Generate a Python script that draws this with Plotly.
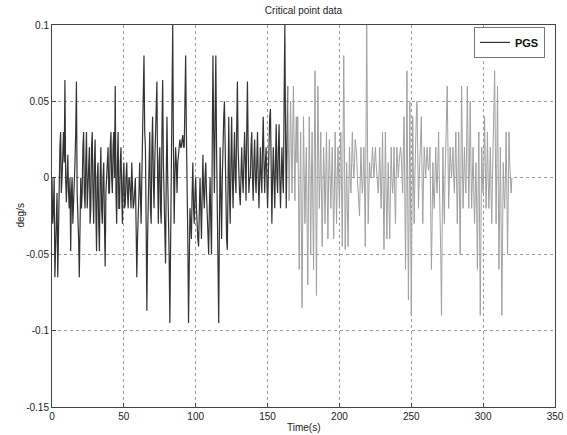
import plotly.graph_objects as go

# ---- data ----
# values at whole seconds 0..320
rate_deg_s = [
    # 0-9
    0.0, -0.02, -0.065, -0.03, -0.065, -0.02, 0.03, 0.0, 0.03, 0.064,
    # 10-19
    -0.016, 0.015, -0.02, -0.048, 0.0, -0.02, 0.01, 0.063, -0.02, -0.065,
    # 20-29
    0.0, -0.01, 0.03, -0.02, 0.03, -0.01, 0.02, -0.02, 0.03, -0.03,
    # 30-39
    0.025, -0.048, 0.01, -0.048, 0.02, -0.03, 0.01, -0.058, 0.0, 0.02,
    # 40-49
    -0.01, 0.03, -0.01, 0.03, 0.06, -0.03, 0.03, -0.02, 0.02, -0.03,
    # 50-59
    0.01, -0.017, 0.01, -0.02, 0.0, -0.02, 0.0, -0.017, 0.0, -0.065,
    # 60-69
    -0.03, 0.01, -0.03, 0.03, 0.08, 0.02, -0.087, -0.02, 0.03, -0.03,
    # 70-79
    0.04, -0.02, 0.03, 0.063, -0.03, 0.02, -0.03, 0.064, -0.02, -0.056,
    # 80-89
    0.04, -0.02, -0.095, 0.0, 0.1, -0.03, 0.02, -0.01, 0.015, 0.025,
    # 90-99
    0.02, 0.028, 0.02, 0.08, 0.0, -0.095, -0.02, -0.04, 0.01, -0.03,
    # 100-109
    0.0, -0.035, -0.045, 0.0, -0.04, 0.015, -0.02, 0.01, -0.03, -0.05,
    # 110-119
    0.0, -0.05, 0.08, -0.01, 0.08, -0.03, -0.095, 0.02, -0.04, 0.03,
    # 120-129
    0.05, -0.02, -0.047, 0.04, -0.03, 0.04, -0.02, 0.03, -0.01, 0.063,
    # 130-139
    0.0, -0.018, 0.02, -0.01, 0.03, -0.015, 0.063, -0.01, 0.0, 0.03,
    # 140-149
    -0.015, 0.025, -0.01, 0.03, -0.02, 0.02, -0.01, 0.04, -0.01, 0.02,
    # 150-159
    -0.02, 0.03, 0.045, -0.03, 0.02, -0.02, 0.035, -0.01, 0.035, -0.02,
    # 160-169
    0.02, -0.01, 0.1, -0.02, 0.06, -0.015, 0.05, -0.01, 0.06, -0.015,
    # 170-179
    0.04, 0.04, -0.06, 0.03, -0.085, 0.04, -0.03, 0.02, -0.07, 0.04,
    # 180-189
    -0.05, 0.03, -0.06, 0.07, -0.077, 0.06, -0.02, 0.03, -0.045, 0.02,
    # 190-199
    -0.03, 0.03, -0.04, 0.025, -0.02, 0.02, -0.04, 0.03, -0.03, 0.02,
    # 200-209
    -0.02, 0.03, -0.045, 0.08, -0.047, 0.01, -0.045, 0.02, -0.01, 0.03,
    # 210-219
    0.0, 0.025, 0.015, -0.01, -0.025, 0.02, -0.01, 0.02, -0.045, 0.1,
    # 220-229
    -0.03, 0.01, 0.0, 0.02, 0.0, 0.02, 0.005, -0.01, 0.02, -0.02,
    # 230-239
    0.03, -0.047, 0.03, -0.04, 0.01, -0.04, 0.02, -0.01, 0.02, -0.03,
    # 240-249
    0.02, 0.0, 0.02, 0.015, -0.01, 0.04, -0.06, 0.07, -0.08, 0.05,
    # 250-259
    -0.09, 0.04, -0.03, 0.03, 0.05, -0.02, 0.01, 0.04, -0.03, 0.02,
    # 260-269
    0.0, 0.02, 0.005, 0.02, -0.06, 0.01, -0.02, 0.02, -0.01, 0.03,
    # 270-279
    -0.02, -0.09, 0.02, -0.03, 0.03, 0.06, -0.02, 0.02, 0.0, 0.02,
    # 280-289
    -0.01, 0.03, -0.03, 0.03, -0.05, 0.06, -0.02, 0.02, -0.01, 0.06,
    # 290-299
    -0.02, 0.05, -0.02, 0.02, -0.03, 0.01, -0.06, 0.03, -0.09, 0.02,
    # 300-309
    -0.01, 0.04, -0.02, 0.03, -0.02, 0.02, -0.03, 0.02, 0.07, -0.03,
    # 310-320
    0.06, -0.06, 0.02, -0.09, 0.01, -0.02, 0.03, -0.05, 0.03, -0.01, 0.0,
]

# values at the half seconds 0.5..319.5 (dense band between the peaks)
rate_half_s = [
    -0.03, 0.0, -0.04, -0.01, -0.03, 0.02, -0.01, 0.02, 0.01, 0.0,
    0.0, -0.01, 0.0, -0.01, -0.03, 0.0, 0.03, -0.01, -0.04, -0.02,
    -0.02, 0.02, -0.01, 0.01, -0.02, 0.01, -0.03, 0.02, -0.01, 0.01,
    -0.02, 0.0, -0.03, 0.0, -0.02, 0.0, -0.03, -0.01, 0.01, -0.01,
    0.02, 0.0, 0.02, 0.0, -0.01, 0.01, -0.02, 0.01, -0.01, 0.0,
    -0.02, 0.0, -0.01, 0.0, -0.01, 0.01, -0.02, 0.0, -0.03, -0.04,
    -0.01, -0.02, 0.0, 0.05, 0.03, -0.03, -0.04, 0.01, -0.02, 0.02,
    0.0, 0.01, 0.04, 0.0, 0.01, -0.02, 0.03, 0.01, -0.04, 0.0,
    0.0, -0.05, -0.03, 0.05, 0.02, 0.0, 0.01, 0.01, 0.02, 0.02,
    0.025, 0.02, 0.05, 0.03, -0.04, -0.05, -0.03, -0.01, -0.02, -0.01,
    -0.02, -0.04, -0.01, -0.02, -0.01, -0.01, 0.0, -0.01, -0.04, -0.02,
    -0.03, 0.02, 0.03, 0.04, 0.02, -0.06, -0.03, -0.01, 0.0, 0.04,
    0.01, -0.04, 0.0, -0.01, 0.01, 0.0, 0.01, 0.0, 0.03, 0.02,
    -0.01, 0.0, 0.0, 0.01, 0.01, 0.03, 0.02, 0.0, 0.02, 0.0,
    0.01, 0.0, 0.01, 0.0, 0.0, 0.0, 0.02, 0.01, 0.01, 0.0,
    0.0, 0.04, 0.0, 0.0, 0.0, 0.01, 0.0, 0.02, 0.0, 0.0,
    0.0, 0.05, 0.03, 0.02, 0.02, 0.02, 0.02, 0.03, 0.02, 0.02,
    0.01, -0.01, -0.01, -0.03, -0.02, 0.0, 0.0, -0.03, -0.01, 0.0,
    0.0, -0.02, 0.01, 0.0, -0.01, 0.02, 0.0, -0.01, -0.01, 0.0,
    0.0, -0.01, 0.0, 0.0, 0.0, -0.01, -0.01, 0.0, 0.0, 0.0,
    0.01, -0.01, 0.02, 0.02, -0.02, -0.02, -0.01, 0.0, 0.01, 0.01,
    0.01, 0.02, 0.0, -0.02, 0.0, 0.0, 0.0, -0.01, 0.03, 0.03,
    -0.01, 0.0, 0.01, 0.01, 0.01, 0.01, 0.0, 0.0, 0.0, 0.0,
    -0.01, -0.01, -0.01, -0.01, -0.02, -0.01, 0.0, 0.0, -0.01, 0.0,
    0.01, 0.01, 0.02, 0.0, 0.02, -0.01, 0.0, -0.01, -0.02, -0.02,
    -0.02, 0.0, 0.0, 0.04, 0.01, 0.0, 0.02, 0.0, 0.0, 0.01,
    0.01, 0.01, 0.01, -0.02, -0.03, -0.01, 0.0, 0.0, 0.01, 0.0,
    -0.05, -0.03, -0.01, 0.0, 0.04, 0.02, 0.0, 0.01, 0.01, 0.0,
    0.01, 0.0, 0.0, -0.01, 0.0, 0.02, 0.0, 0.0, 0.02, 0.02,
    0.01, 0.01, 0.0, -0.01, -0.01, -0.02, -0.01, -0.03, -0.03, 0.0,
    0.01, 0.01, 0.0, 0.0, 0.0, -0.01, 0.0, 0.04, 0.02, 0.01,
    0.0, -0.02, -0.03, -0.04, -0.01, 0.0, -0.01, -0.01, 0.01, -0.01,
]

x_ticks = [0, 50, 100, 150, 200, 250, 300, 350]
x_tick_labels = ["0", "50", "100", "150", "200", "250", "300", "350"]
y_ticks = [0.1, 0.05, 0, -0.05, -0.1, -0.15]
y_tick_labels = ["0.1", "0.05", "0", "-0.05", "-0.1", "-0.15"]

series_name = "PGS"
title_text = "Critical point data"
x_title = "Time(s)"
y_title = "deg/s"

# merge the whole-second and half-second readings in time order
time_s, values = [], []
for i, v in enumerate(rate_deg_s):
    time_s.append(float(i))
    values.append(v)
    if i < len(rate_half_s):
        time_s.append(i + 0.5)
        values.append(rate_half_s[i])

# the scanned trace is dark in its first half and faded afterwards
split_idx = time_s.index(164.0)
FONT = "Liberation Sans, Arial, sans-serif"

fig = go.Figure()
fig.add_trace(go.Scatter(
    x=time_s[:split_idx + 1], y=values[:split_idx + 1], mode="lines",
    name="<b>" + series_name + "</b>", legendgroup="pgs",
    line=dict(color="#333333", width=1.2),
))
fig.add_trace(go.Scatter(
    x=time_s[split_idx:], y=values[split_idx:], mode="lines",
    name=series_name, legendgroup="pgs", showlegend=False,
    line=dict(color="#a0a0a0", width=1),
))

axis_common = dict(
    automargin=False,
    showline=True, linecolor="#444", linewidth=1, mirror=True,
    ticks="inside", ticklen=4, tickcolor="#444",
    showgrid=True, gridcolor="#9a9a9a", griddash="dot", gridwidth=1,
    zeroline=False,
    tickfont=dict(family=FONT, size=10, color="#222"),
)

fig.update_layout(
    template="none",
    width=567, height=435,
    margin=dict(l=52, r=12, t=25, b=28),
    paper_bgcolor="white", plot_bgcolor="white",
    font=dict(family=FONT, color="#222"),
    title=dict(text=title_text, x=0.5, xref="paper", y=1 - 10 / 435,
               yanchor="middle", font=dict(family=FONT, size=10, color="#222")),
    xaxis=dict(range=[0, 350], tickmode="array", tickvals=x_ticks,
               ticktext=x_tick_labels, **axis_common),
    yaxis=dict(range=[-0.15, 0.1], tickmode="array", tickvals=y_ticks,
               ticktext=y_tick_labels, **axis_common),
    showlegend=True,
    legend=dict(x=0.98, y=0.995, xanchor="right", yanchor="top",
                bgcolor="white", bordercolor="#777", borderwidth=1,
                font=dict(family=FONT, size=11, color="#111"),
                itemwidth=30, tracegroupgap=0),
)
fig.add_annotation(text=x_title, xref="paper", x=0.5, yref="paper", y=0,
                   yshift=-20, yanchor="middle", showarrow=False,
                   font=dict(family=FONT, size=10, color="#222"))
fig.add_annotation(text=y_title, xref="paper", x=0, xshift=-40,
                   yref="paper", y=0.5, textangle=-90, showarrow=False,
                   font=dict(family=FONT, size=10, color="#222"))

fig.write_html("out.html",
               config={"displayModeBar": False},
               post_script="document.body.style.margin='0';")
